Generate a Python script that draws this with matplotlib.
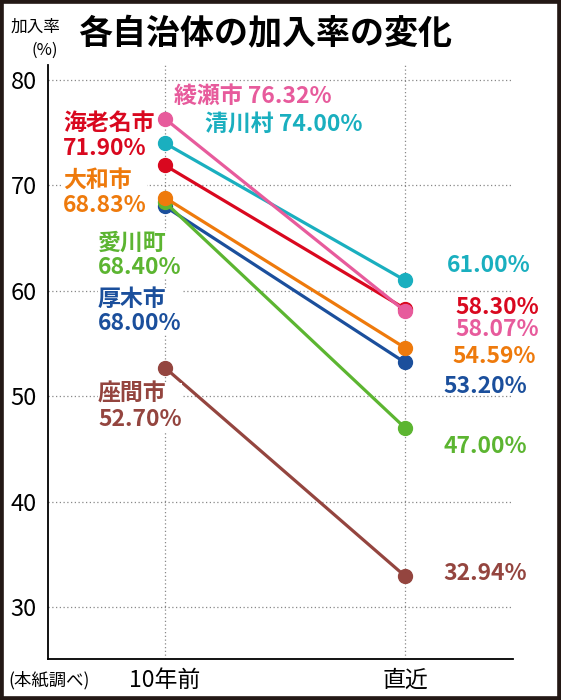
import matplotlib.pyplot as plt
from matplotlib.patches import Rectangle

plt.rcParams['font.family'] = ['Noto Sans CJK JP', 'DejaVu Sans']

# data
periods = ['10年前', '直近']
cities = ['座間市', '厚木市', '愛川町', '大和市', '海老名市', '清川村', '綾瀬市']
before = [52.70, 68.00, 68.40, 68.83, 71.90, 74.00, 76.32]
recent = [32.94, 53.20, 47.00, 54.59, 58.30, 61.00, 58.07]
colors = ['#94453f', '#1b4f9c', '#5cb531', '#ee7a0c', '#d9081f', '#1aafbf', '#e75b9c']
yticks = [30, 40, 50, 60, 70, 80]

# label offsets in pixels (left label, right label)
left_off = {
    '座間市': (-67, -39), '厚木市': (-67, -105), '愛川町': (-67, -53),
    '大和市': (-102, 5), '海老名市': (-102, 29),
}
top_off = {'綾瀬市': (9, 22), '清川村': (40, 19)}
right_off = {
    '座間市': (38, 3), '厚木市': (38, -24), '愛川町': (38, -19),
    '大和市': (47, -9), '海老名市': (50, 1), '清川村': (42, 15), '綾瀬市': (50, -18),
}

fig = plt.figure(figsize=(5.61, 7.0), dpi=100)
ax = fig.add_axes([48 / 561, 41 / 700, 465 / 561, 594 / 700])

x = list(range(len(periods)))
box = dict(fc='white', ec='none', pad=0)
for i, city in enumerate(cities):
    c = colors[i]
    ax.plot(x, [before[i], recent[i]], color=c, lw=2.3, marker='o',
            markersize=10, zorder=3 + i, solid_capstyle='round')
    if city in left_off:
        ax.annotate(f'{city}\n{before[i]:.2f}%', xy=(0, before[i]),
                    xytext=left_off[city], textcoords='offset pixels',
                    ha='left', va='center', color=c, fontsize=16.5,
                    fontweight='bold', linespacing=1.1, zorder=20, bbox=box)
    else:
        ax.annotate(f'{city} {before[i]:.2f}%', xy=(0, before[i]),
                    xytext=top_off[city], textcoords='offset pixels',
                    ha='left', va='center', color=c, fontsize=16.5,
                    fontweight='bold', zorder=20, bbox=box)
    ax.annotate(f'{recent[i]:.2f}%', xy=(1, recent[i]),
                xytext=right_off[city], textcoords='offset pixels',
                ha='left', va='center', color=c, fontsize=16.5,
                fontweight='bold', zorder=20 + i)

ax.set_xlim(-0.4875, 1.45)
ax.set_ylim(25.07, 81.42)
ax.set_yticks(yticks)
ax.set_xticks(x)
ax.set_xticklabels(periods, fontsize=16.5)
ax.tick_params(axis='y', length=0, pad=8, labelsize=17)
ax.tick_params(axis='x', length=0, pad=7)
ax.grid(True, ls=(0, (1, 2)), color='#888888', lw=0.9)
ax.set_axisbelow(True)
for s in ['top', 'right']:
    ax.spines[s].set_visible(False)
for s in ['left', 'bottom']:
    ax.spines[s].set_linewidth(1.3)

fig.text(78 / 561, 1 - 34 / 700, '各自治体の加入率の変化', fontsize=24.5,
         fontweight='bold', ha='left', va='center')
fig.text(35 / 561, 1 - 27 / 700, '加入率', fontsize=12, ha='center', va='center')
fig.text(45 / 561, 1 - 50 / 700, '(%)', fontsize=12, ha='center', va='center')
fig.text(8 / 561, 1 - 680 / 700, '(本紙調べ)', fontsize=12.5, ha='left', va='center')

fig.patches.append(Rectangle((0, 0), 1, 1, transform=fig.transFigure,
                             fill=False, ec='#231815', lw=5.5))

fig.savefig('out.png', dpi=100)
